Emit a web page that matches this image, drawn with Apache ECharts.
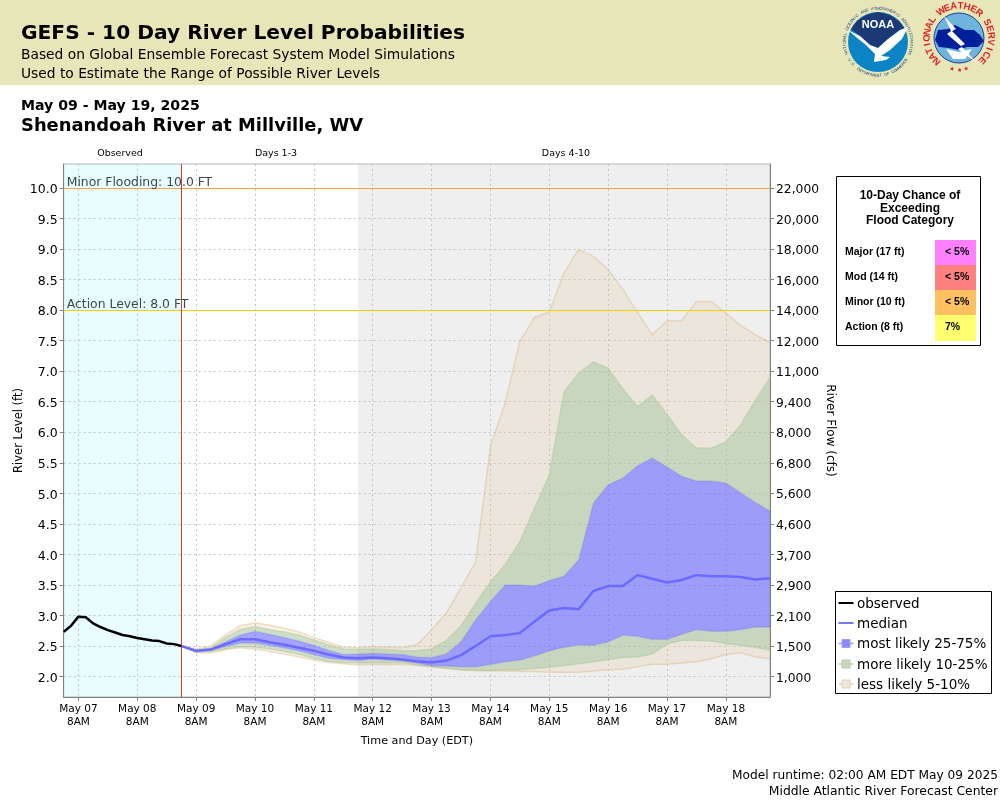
<!DOCTYPE html>
<html>
<head>
<meta charset="utf-8">
<title>GEFS River Level Probabilities</title>
<script src="https://cdn.jsdelivr.net/npm/echarts@6/dist/echarts.min.js"></script>
<style>
  html, body { margin: 0; padding: 0; background: #fff; }
  #chart { width: 1000px; height: 800px; }
</style>
</head>
<body>
<div id="chart"></div>
<script>
// x values are hours since May 07 00:00 EDT
const xStart = 2;
const xEnd = 290;
const observedEnd = 50;
const days410Start = 122;

const dayLabels = ["May 07", "May 08", "May 09", "May 10", "May 11", "May 12", "May 13", "May 14", "May 15", "May 16", "May 17", "May 18"];
const dayTicks = [8, 32, 56, 80, 104, 128, 152, 176, 200, 224, 248, 272];
const levelTicks = [2, 2.5, 3, 3.5, 4, 4.5, 5, 5.5, 6, 6.5, 7, 7.5, 8, 8.5, 9, 9.5, 10];
const flowLabels = ["1,000", "1,500", "2,100", "2,900", "3,700", "4,600", "5,600", "6,800", "8,000", "9,400", "11,000", "12,000", "14,000", "16,000", "18,000", "20,000", "22,000"];

// observed level, every 3 hours from May 07 2AM
const observedHours = [2, 5, 8, 11, 14, 17, 20, 23, 26, 29, 32, 35, 38, 41, 44, 47, 50];
const observed = [2.73, 2.83, 2.98, 2.97, 2.87, 2.81, 2.76, 2.72, 2.68, 2.66, 2.63, 2.61, 2.59, 2.58, 2.54, 2.53, 2.50];

// forecast, every 6 hours from May 09 2AM
const forecastHours = [50, 56, 62, 68, 74, 80, 86, 92, 98, 104, 110, 116, 122, 128, 134, 140, 146, 152, 158, 164, 170, 176, 182, 188, 194, 200, 206, 212, 218, 224, 230, 236, 242, 248, 254, 260, 266, 272, 278, 284, 290];
const p95 = [2.50, 2.45, 2.50, 2.68, 2.83, 2.88, 2.84, 2.79, 2.73, 2.64, 2.56, 2.48, 2.47, 2.49, 2.48, 2.47, 2.52, 2.76, 3.04, 3.45, 3.88, 5.77, 6.48, 7.49, 7.88, 7.97, 8.61, 8.99, 8.88, 8.66, 8.34, 7.96, 7.60, 7.82, 7.83, 8.14, 8.14, 7.95, 7.75, 7.60, 7.47];
const p90 = [2.50, 2.43, 2.47, 2.64, 2.77, 2.82, 2.77, 2.73, 2.68, 2.60, 2.52, 2.45, 2.44, 2.45, 2.44, 2.42, 2.42, 2.45, 2.59, 2.83, 3.20, 3.55, 3.83, 4.21, 4.76, 5.30, 6.66, 6.97, 7.15, 7.05, 6.71, 6.42, 6.61, 6.29, 5.96, 5.74, 5.74, 5.84, 6.12, 6.52, 6.90];
const p75 = [2.50, 2.41, 2.46, 2.57, 2.68, 2.74, 2.69, 2.64, 2.58, 2.51, 2.43, 2.36, 2.37, 2.38, 2.37, 2.36, 2.32, 2.31, 2.37, 2.57, 2.93, 3.23, 3.50, 3.50, 3.48, 3.57, 3.64, 3.91, 4.84, 5.14, 5.25, 5.45, 5.58, 5.43, 5.28, 5.20, 5.20, 5.17, 5.01, 4.85, 4.71];
const median = [2.50, 2.42, 2.44, 2.53, 2.61, 2.61, 2.56, 2.52, 2.47, 2.42, 2.36, 2.31, 2.30, 2.31, 2.30, 2.28, 2.25, 2.23, 2.26, 2.35, 2.50, 2.66, 2.68, 2.71, 2.90, 3.08, 3.12, 3.10, 3.40, 3.48, 3.48, 3.66, 3.60, 3.54, 3.58, 3.66, 3.64, 3.64, 3.63, 3.59, 3.61];
const p25 = [2.50, 2.41, 2.43, 2.49, 2.55, 2.55, 2.51, 2.47, 2.42, 2.36, 2.30, 2.28, 2.26, 2.29, 2.27, 2.26, 2.22, 2.18, 2.17, 2.16, 2.16, 2.20, 2.24, 2.27, 2.34, 2.42, 2.48, 2.52, 2.51, 2.57, 2.68, 2.66, 2.61, 2.61, 2.69, 2.77, 2.74, 2.74, 2.77, 2.81, 2.81];
const p10 = [2.50, 2.40, 2.41, 2.45, 2.49, 2.48, 2.45, 2.41, 2.36, 2.30, 2.25, 2.23, 2.22, 2.23, 2.22, 2.23, 2.19, 2.16, 2.14, 2.11, 2.10, 2.10, 2.11, 2.11, 2.13, 2.15, 2.18, 2.21, 2.24, 2.28, 2.31, 2.32, 2.37, 2.53, 2.59, 2.59, 2.58, 2.54, 2.51, 2.48, 2.43];
const p5 = [2.50, 2.39, 2.39, 2.44, 2.47, 2.45, 2.41, 2.37, 2.32, 2.27, 2.23, 2.21, 2.19, 2.20, 2.19, 2.20, 2.18, 2.16, 2.13, 2.11, 2.10, 2.09, 2.09, 2.08, 2.08, 2.07, 2.07, 2.07, 2.09, 2.11, 2.12, 2.16, 2.20, 2.20, 2.22, 2.24, 2.29, 2.36, 2.39, 2.32, 2.29];

const floodCategories = ["Major (17 ft)", "Mod (14 ft)", "Minor (10 ft)", "Action (8 ft)"];
const floodChances = ["< 5%", "< 5%", "< 5%", "7%"];
const floodColors = ["#ff80ff", "#ff8080", "#ffc060", "#ffff70"];

const SANS = "DejaVu Sans";
const ARIAL = "Liberation Sans";
const TAN = "rgba(226,190,145,0.2)";
const GREEN = "rgba(161,189,145,0.5)";
const BLUE = "rgba(102,102,255,0.6)";
const TAN_LINE = "rgba(222,184,135,0.45)";
const GREEN_LINE = "rgba(170,205,150,0.5)";
const BLUE_LINE = "rgba(110,110,240,0.3)";

const yMin = 1.664;
const yMax = 10.393;

// one filled polygon between two curves, the edges stroked on their own
function bandSeries(name, lower, upper, fill, lowerLine, upperLine) {
  return {
    name,
    type: "custom",
    data: forecastHours.map((h, i) => [h, lower[i], upper[i]]),
    z: 2,
    silent: true,
    renderItem(params, api) {
      if (params.dataIndex !== 0) return null;
      const low = forecastHours.map((h, i) => api.coord([h, lower[i]]));
      const up = forecastHours.map((h, i) => api.coord([h, upper[i]]));
      const children = [
        { type: "polygon", shape: { points: low.concat(up.slice().reverse()) }, style: { fill } },
        { type: "polyline", shape: { points: up }, style: { fill: "none", stroke: upperLine, lineWidth: 1.5 } },
      ];
      if (lowerLine) {
        children.push({ type: "polyline", shape: { points: low }, style: { fill: "none", stroke: lowerLine, lineWidth: 1.5 } });
      }
      return { type: "group", children };
    },
  };
}

function zoneSeries(name, from, to, color) {
  return {
    name,
    type: "custom",
    data: [[from, to]],
    z: -1,
    silent: true,
    renderItem(params, api) {
      const a = api.coord([api.value(0), yMax]);
      const b = api.coord([api.value(1), yMin]);
      return { type: "rect", shape: { x: a[0], y: a[1], width: b[0] - a[0], height: b[1] - a[1] }, style: { fill: color } };
    },
  };
}

function text(str, x, y, opts) {
  return {
    type: "text",
    x,
    y: y + 1,
    silent: true,
    style: Object.assign({ text: str, fontFamily: SANS, fontSize: 12, fill: "#000", textVerticalAlign: "middle" }, opts),
  };
}

// letters around a circle, for the two seals
function arcText(str, cx, cy, r, startDeg, endDeg, opts, inward) {
  const out = [];
  const n = str.length;
  for (let i = 0; i < n; i++) {
    const deg = startDeg + (endDeg - startDeg) * (i + 0.5) / n;
    const rad = deg * Math.PI / 180;
    out.push({
      type: "text",
      x: cx + r * Math.sin(rad),
      y: cy - r * Math.cos(rad),
      rotation: inward ? Math.PI - rad : -rad,
      silent: true,
      style: Object.assign({ text: str[i], textAlign: "center", textVerticalAlign: "middle", fontFamily: ARIAL }, opts),
    });
  }
  return out;
}

function noaaLogo(cx, cy) {
  const p = pts => pts.map(([x, y]) => [cx + x, cy + y]);
  return [
    { type: "circle", shape: { cx, cy, r: 30 }, style: { fill: "#0b84c6" } },
    { type: "polygon", shape: { points: p([[-27, -13], [-21, -21], [-12, -27], [0, -30], [12, -27], [21, -21], [27, -13], [22, -12], [10, -3], [0, 6], [-8, 3], [-18, -6]]) }, style: { fill: "#1b3a75" } },
    { type: "polygon", shape: { points: p([[-30, -12], [-18, -6], [-8, 3], [0, 6], [10, -3], [22, -12], [30, -15], [24, -3], [12, 8], [3, 14], [12, 15], [8, 18], [-4, 20], [-3, 12], [-12, 3], [-22, -5]]) }, style: { fill: "#fff" } },
    text("NOAA", cx, cy - 18, { fontFamily: ARIAL, fontSize: 11, fontWeight: "bold", fill: "#fff", textAlign: "center" }),
  ].concat(
    arcText("NATIONAL OCEANIC AND ATMOSPHERIC ADMINISTRATION", cx, cy, 33.5, -112, 112, { fontSize: 4, fill: "#1b3a75" }),
    arcText("U.S. DEPARTMENT OF COMMERCE", cx, cy, 33.5, 240, 120, { fontSize: 4, fill: "#1b3a75" }, true)
  );
}

function nwsLogo(cx, cy) {
  const p = pts => pts.map(([x, y]) => [cx + x, cy + y]);
  return [
    { type: "circle", shape: { cx, cy, r: 25 }, style: { fill: "#6fb4dc", stroke: "#1c3f94", lineWidth: 1 } },
    { type: "polygon", shape: { points: p([[-24, 2], [-21, -8], [-11, -9], [-4, -13], [6, -8], [15, -8], [21, -3], [25, 3], [19, 9], [8, 9], [0, 12], [-10, 10], [-20, 9]]) }, style: { fill: "#00209a" } },
    { type: "polygon", shape: { points: p([[-13, 11], [0, 14], [13, 11], [6, 21], [-6, 21]]) }, style: { fill: "#fff" } },
    { type: "polygon", shape: { points: p([[-15, -22], [-3, -9], [-7, -7], [6, 6], [2, 8], [18, 25], [-1, 11], [3, 9], [-12, -4], [-8, -7]]) }, style: { fill: "#fff" } },
  ].concat(
    arcText("NATIONAL", cx, cy, 32, -142, -50, { fontSize: 9.5, fontWeight: "bold", fill: "#e02020" }),
    arcText("WEATHER", cx, cy, 32, -40, 45, { fontSize: 9.5, fontWeight: "bold", fill: "#e02020" }),
    arcText("SERVICE", cx, cy, 32, 55, 140, { fontSize: 9.5, fontWeight: "bold", fill: "#e02020" }),
    arcText("\u2605\u2605\u2605", cx, cy, 32, 200, 160, { fontSize: 6, fill: "#d02020" }, true)
  );
}

function legendBox() {
  const x = 835.5;
  const rows = [
    { label: "observed", y: 603, line: "#000", width: 2 },
    { label: "median", y: 623, line: "#7777ff", width: 2 },
    { label: "most likely 25-75%", y: 643.5, line: "#9d9dfa", width: 1.5, box: "#8a8af8" },
    { label: "more likely 10-25%", y: 664, line: "#b6d4a8", width: 1.5, box: "#c8d6c0" },
    { label: "less likely 5-10%", y: 684, line: "#e5cfb5", width: 1.5, box: "#efe6dc" },
  ];
  const out = [{ type: "rect", shape: { x, y: 591.5, width: 156, height: 102 }, style: { fill: "#fff", stroke: "#000", lineWidth: 1 } }];
  rows.forEach((r) => {
    out.push({ type: "line", shape: { x1: x + 3, y1: r.y, x2: x + 18, y2: r.y }, style: { stroke: r.line, lineWidth: r.width } });
    if (r.box) {
      out.push({ type: "rect", shape: { x: x + 6.5, y: r.y - 4, width: 8, height: 8 }, style: { fill: r.box, stroke: r.line, lineWidth: 1 } });
    }
    out.push(text(r.label, x + 21.5, r.y, { fontSize: 13.5, fill: "#000" }));
  });
  return out;
}

function floodBox() {
  const out = [{ type: "rect", shape: { x: 836.5, y: 176.5, width: 144, height: 169 }, style: { fill: "#fff", stroke: "#000", lineWidth: 1 } }];
  ["10-Day Chance of", "Exceeding", "Flood Category"].forEach((t, i) => {
    out.push(text(t, 910, 194.5 + i * 12.7, { fontFamily: ARIAL, fontSize: 12, fontWeight: "bold", textAlign: "center" }));
  });
  const tops = [240, 265, 290, 315];
  const heights = [25, 25, 25, 26];
  floodCategories.forEach((c, i) => {
    out.push({ type: "rect", shape: { x: 935, y: tops[i], width: 41, height: heights[i] }, style: { fill: floodColors[i] } });
    out.push(text(c, 845, tops[i] + 11, { fontFamily: ARIAL, fontSize: 10.5, fontWeight: "bold" }));
    out.push(text(floodChances[i], 945, tops[i] + 11, { fontFamily: ARIAL, fontSize: 10.5, fontWeight: "bold" }));
  });
  return out;
}

// taller box with the glyphs at its bottom, so the tick labels sit a little lower
const tickRich = { a: { fontFamily: SANS, fontSize: 12.5, color: "#000", padding: [4, 0, 0, 0] } };
const flowRich = { a: { fontFamily: SANS, fontSize: 12.3, color: "#000", padding: [4, 0, 0, 0] } };

const chart = echarts.init(document.getElementById("chart"), null, { renderer: "canvas" });

chart.setOption({
  animation: false,
  backgroundColor: "#fff",
  grid: { left: 63.7, right: 230, top: 164, bottom: 103, outerBoundsMode: "none", show: true, borderColor: "#b4b4b4", borderWidth: 1, backgroundColor: "transparent" },
  xAxis: {
    type: "value",
    min: xStart,
    max: xEnd,
    name: "Time and Day (EDT)",
    nameLocation: "middle",
    nameGap: 39,
    nameMoveOverlap: false,
    nameTextStyle: { fontFamily: SANS, fontSize: 11.2, color: "#000" },
    axisLine: { lineStyle: { color: "#808080", width: 1 } },
    axisTick: { length: 4, lineStyle: { color: "#808080" }, customValues: dayTicks },
    axisLabel: {
      customValues: dayTicks,
      fontFamily: SANS,
      fontSize: 10.5,
      lineHeight: 13,
      color: "#000",
      margin: 6,
      formatter: v => `${dayLabels[(v - 8) / 24]}\n8AM`,
    },
    splitLine: { show: true, lineStyle: { color: "#c4c4c4", type: [2, 3], width: 1 } },
  },
  yAxis: [
    {
      type: "value",
      min: yMin,
      max: yMax,
      name: "River Level (ft)",
      nameLocation: "middle",
      nameGap: 39,
      nameMoveOverlap: false,
      nameTextStyle: { fontFamily: SANS, fontSize: 11.5, color: "#000" },
      axisLine: { show: true, lineStyle: { color: "#808080", width: 1 } },
      axisTick: { show: true, length: 4, lineStyle: { color: "#808080" }, customValues: levelTicks },
      axisLabel: { customValues: levelTicks, margin: 6, rich: tickRich, formatter: v => `{a|${v.toFixed(1)}}` },
      splitLine: { show: true, lineStyle: { color: "#c4c4c4", type: [2, 3], width: 1 } },
    },
    {
      type: "value",
      position: "right",
      min: yMin,
      max: yMax,
      name: "River Flow (cfs)",
      nameLocation: "middle",
      nameRotate: -90,
      nameGap: 54,
      nameMoveOverlap: false,
      nameTextStyle: { fontFamily: SANS, fontSize: 12, color: "#000" },
      axisLine: { show: true, lineStyle: { color: "#808080", width: 1 } },
      axisTick: { show: true, length: 4, lineStyle: { color: "#808080" }, customValues: levelTicks },
      axisLabel: { customValues: levelTicks, margin: 6, rich: flowRich, formatter: v => `{a|${flowLabels[Math.round((v - 2) / 0.5)]}}` },
      splitLine: { show: false },
    },
  ],
  series: [
    zoneSeries("observed zone", xStart, observedEnd, "#e8fefe"),
    zoneSeries("days 4-10 zone", days410Start, xEnd, "#efefef"),
    bandSeries("less likely low", p5, p10, TAN, TAN_LINE, GREEN_LINE),
    bandSeries("more likely low", p10, p25, GREEN, null, BLUE_LINE),
    bandSeries("most likely", p25, p75, BLUE, null, BLUE_LINE),
    bandSeries("more likely high", p75, p90, GREEN, null, GREEN_LINE),
    bandSeries("less likely high", p90, p95, TAN, null, TAN_LINE),
    {
      name: "median",
      type: "line",
      data: forecastHours.map((h, i) => [h, median[i]]),
      showSymbol: false,
      z: 4,
      lineStyle: { color: "#6a6aff", width: 2.5 },
    },
    {
      name: "observed",
      type: "line",
      data: observedHours.map((h, i) => [h, observed[i]]),
      showSymbol: false,
      z: 5,
      lineStyle: { color: "#000", width: 2.5 },
    },
    {
      name: "thresholds",
      type: "line",
      data: [],
      markLine: {
        silent: true,
        symbol: "none",
        animation: false,
        label: { position: "insideStartTop", fontFamily: SANS, fontSize: 12.4, color: "#3a4a4a", distance: [3, -1] },
        data: [
          { yAxis: 10, lineStyle: { color: "#ffa040", width: 1, type: "solid" }, label: { formatter: "Minor Flooding: 10.0 FT" } },
          { yAxis: 8, lineStyle: { color: "#ffd000", width: 1, type: "solid" }, label: { formatter: "Action Level: 8.0 FT" } },
          { xAxis: observedEnd, lineStyle: { color: "#d8392b", width: 1, type: "solid" }, label: { show: false } },
        ],
      },
    },
  ],
  graphic: { elements: [].concat(
    [
      { type: "rect", shape: { x: 0, y: 0, width: 1000, height: 85 }, style: { fill: "#e6e6b8" }, z: -10 },
      text("GEFS - 10 Day River Level Probabilities", 21, 33, { fontSize: 20.2, fontWeight: "bold" }),
      text("Based on Global Ensemble Forecast System Model Simulations", 21, 54, { fontSize: 13.8 }),
      text("Used to Estimate the Range of Possible River Levels", 21, 73, { fontSize: 13.8 }),
      text("May 09 - May 19, 2025", 21, 105, { fontSize: 14.1, fontWeight: "bold" }),
      text("Shenandoah River at Millville, WV", 21, 125, { fontSize: 17.9, fontWeight: "bold" }),
      text("Observed", 120, 153, { fontSize: 9.5, textAlign: "center" }),
      text("Days 1-3", 276, 153, { fontSize: 9.5, textAlign: "center" }),
      text("Days 4-10", 566, 153, { fontSize: 9.5, textAlign: "center" }),
      text("Model runtime: 02:00 AM EDT May 09 2025", 998, 775, { fontSize: 12.2, textAlign: "right" }),
      text("Middle Atlantic River Forecast Center", 998, 791, { fontSize: 12.35, textAlign: "right" }),
    ],
    noaaLogo(878, 42),
    nwsLogo(959, 38),
    floodBox(),
    legendBox()
  ) },
});
</script>
</body>
</html>
